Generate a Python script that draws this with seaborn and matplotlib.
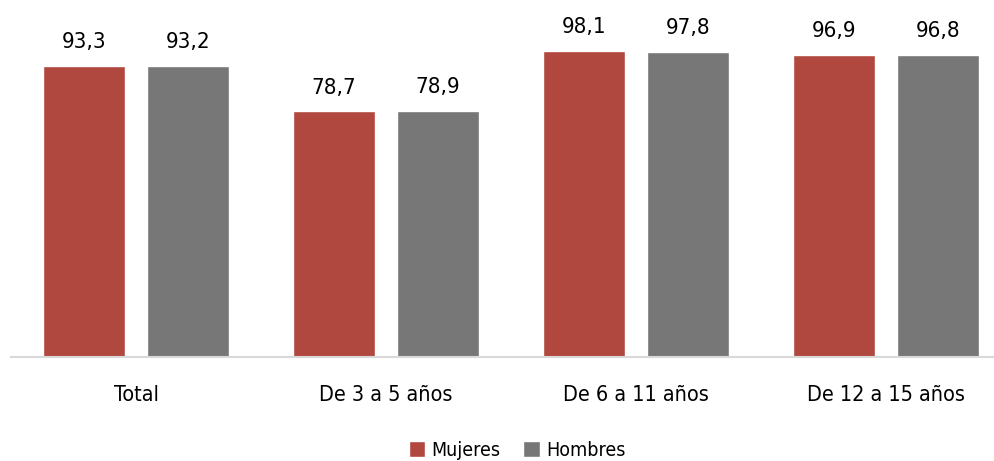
import pandas as pd
import seaborn as sb
import matplotlib.pyplot as plt

categorias = ["Total", "De 3 a 5 años", "De 6 a 11 años", "De 12 a 15 años"]
mujeres = [93.3, 78.7, 98.1, 96.9]
hombres = [93.2, 78.9, 97.8, 96.8]
series = ["Mujeres", "Hombres"]
colores = ["#B0483F", "#777777"]

df = pd.DataFrame({
    "grupo": categorias * 2,
    "valor": mujeres + hombres,
    "sexo": [series[0]] * 4 + [series[1]] * 4,
})

sb.set_style("white")
plt.rcParams['font.family'] = ['DejaVu Sans']
plt.rcParams['font.stretch'] = 'condensed'
plt.rcParams['text.color'] = 'black'
plt.rcParams['xtick.color'] = 'black'

fig = plt.figure(figsize=(9.94, 4.61), dpi=100)
ax = fig.add_axes([11 / 994, 104 / 461, 983 / 994, 312 / 461])
sb.barplot(data=df, x="grupo", y="valor", hue="sexo", palette=colores,
           width=0.832, gap=0.22, ax=ax, saturation=1)

ax.set_xlim(-0.5, -0.5 + 983 / 250)
ax.set_ylim(0, 100)
for c in ax.containers:
    ax.bar_label(c, labels=[f"{v:.1f}".replace(".", ",") for v in c.datavalues],
                 padding=10, fontsize=16, clip_on=False)

ax.set_yticks([])
ax.set_xlabel("")
ax.set_ylabel("")
ax.tick_params(axis="x", labelsize=15.5, length=0, pad=20, labelcolor="black")
for s in ["top", "right", "left"]:
    ax.spines[s].set_visible(False)
ax.spines["bottom"].set_color("#d9d9d9")
ax.spines["bottom"].set_linewidth(1.5)

ax.legend(loc="center", bbox_to_anchor=(517 / 994, 11 / 461),
          bbox_transform=fig.transFigure, ncol=2, frameon=False,
          fontsize=14, handlelength=0.85, handleheight=0.85,
          handletextpad=0.3, columnspacing=1.2)

plt.savefig("out.png", dpi=100)
